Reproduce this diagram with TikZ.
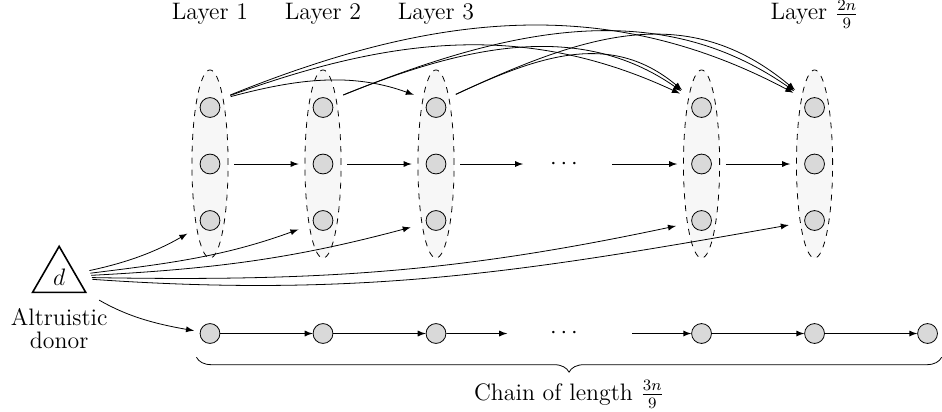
\documentclass[12pt,tikz,border=0pt]{standalone}
\usepackage{amsmath, amssymb}
\usetikzlibrary{arrows}
\usetikzlibrary{shapes.geometric}
\usetikzlibrary{decorations.pathreplacing}
\usetikzlibrary{positioning}

\tikzset{
  vtx/.style={circle, draw, fill=gray!30, minimum size=10pt, inner sep=0pt},
  layer/.style={ellipse, draw, dashed, fill=black!3, minimum width=0.64cm, minimum height=3.33cm, inner sep=0pt},
  donor/.style={regular polygon, regular polygon sides=3, draw, thick, minimum size=1.086cm, inner sep=0pt},
  far/.style={shorten >=8pt, shorten <=7pt},
  lbl/.style={anchor=base},
}

\begin{document}
\begin{tikzpicture}[->,>=latex,node distance=2cm]
      \useasboundingbox (-3.717,-4.372) rectangle (12.956,2.903);
      % layers
      \node[layer] (l1) {};
      \node[layer] (l2) [right of=l1]{};
      \node[layer] (l3) [right of=l2]{};
      \node[layer] (l4) [right of=l3, node distance=4.7cm]{};
      \node[layer] (l5) [right of=l4]{};
      \foreach \i in {1,...,5} {
        \node[vtx] (m\i) at (l\i) {};
        \node[vtx] (t\i) [above of=m\i, node distance=1cm]{};
        \node[vtx] (u\i) [below of=m\i, node distance=1cm]{};
      }
      \node[lbl] (h1) at (0,2.55) {Layer 1};
      \node[lbl] (h2) at (2,2.55) {Layer 2};
      \node[lbl] (h3) at (4,2.55) {Layer 3};
      \node[lbl] (h5) at (10.7,2.55) {Layer $\frac{2n}{9}$};

      % chain
      \node[vtx] (p1) [below of=m1, node distance=3cm]{};
      \node[vtx] (p2) [right of=p1]{};
      \node[vtx] (p3) [right of=p2]{};
      \node[vtx] (p4) [right of=p3, node distance=4.7cm]{};
      \node[vtx] (p5) [right of=p4]{};
      \node[vtx] (p6) [right of=p5]{};

      \node (dm) at (6.3,0) {$\cdots$};
      \node (dp) at (6.3,-3) {$\cdots$};
      \coordinate (ma) at (5.54,0);
      \coordinate (mb) at (7.12,0);
      \coordinate (pa) at (5.26,-3);
      \coordinate (pb) at (7.47,-3);

      \node[donor] (d) at (-2.67,-2) {$d$};
      \node[align=center] (dt) [below=3.5pt of d] {Altruistic\\[-3pt]donor};

      % layer to layer
      \draw[shorten >=3pt, shorten <=3pt] (l1) -- (l2);
      \draw[shorten >=3pt, shorten <=3pt] (l2) -- (l3);
      \draw[shorten <=3pt] (l3) -- (ma);
      \draw[shorten >=3pt] (mb) -- (l4);
      \draw[shorten >=3pt, shorten <=3pt] (l4) -- (l5);

      \draw[far] (t1.north east) to[out=15,in=160] (t3.north west);
      \draw[far] (t1.north east) to[out=20,in=155] (t4.north west);
      \draw[far] (t1.north east) to[out=22,in=152] (t5.north west);
      \draw[far] (t2.north east) to[out=22,in=145] (t4.north west);
      \draw[far] (t2.north east) to[out=22,in=145] (t5.north west);
      \draw[far] (t3.north east) to[out=25,in=140,looseness=1.1] (t4.north west);
      \draw[far] (t3.north east) to[out=25,in=140,looseness=1.1] (t5.north west);

      % donor
      \draw[far] (d) to[out=12,in=210] (u1);
      \draw[far] (d) to[out=7,in=200] (u2);
      \draw[far] (d) to[out=3,in=195] (u3);
      \draw[far] (d) to[out=-1,in=192] (u4);
      \draw[far] (d) to[out=-4,in=190] (u5);
      \draw[shorten <=7pt, shorten >=3pt] (d) to[out=-30,in=170] (p1);

      % chain edges
      \foreach \a/\b in {p1/p2,p2/p3,p3/pa,pb/p4,p4/p5,p5/p6}
        \draw (\a) -- (\b);

      \coordinate (bl) at (-0.24,-3.42);
      \coordinate (br) at (12.95,-3.42);
      \draw[-, decorate, decoration={brace, mirror, amplitude=7.5pt}] (bl) -- (br)
        node[midway, below=7.5pt] (cl) {Chain of length $\frac{3n}{9}$};
    \end{tikzpicture}
\end{document}
